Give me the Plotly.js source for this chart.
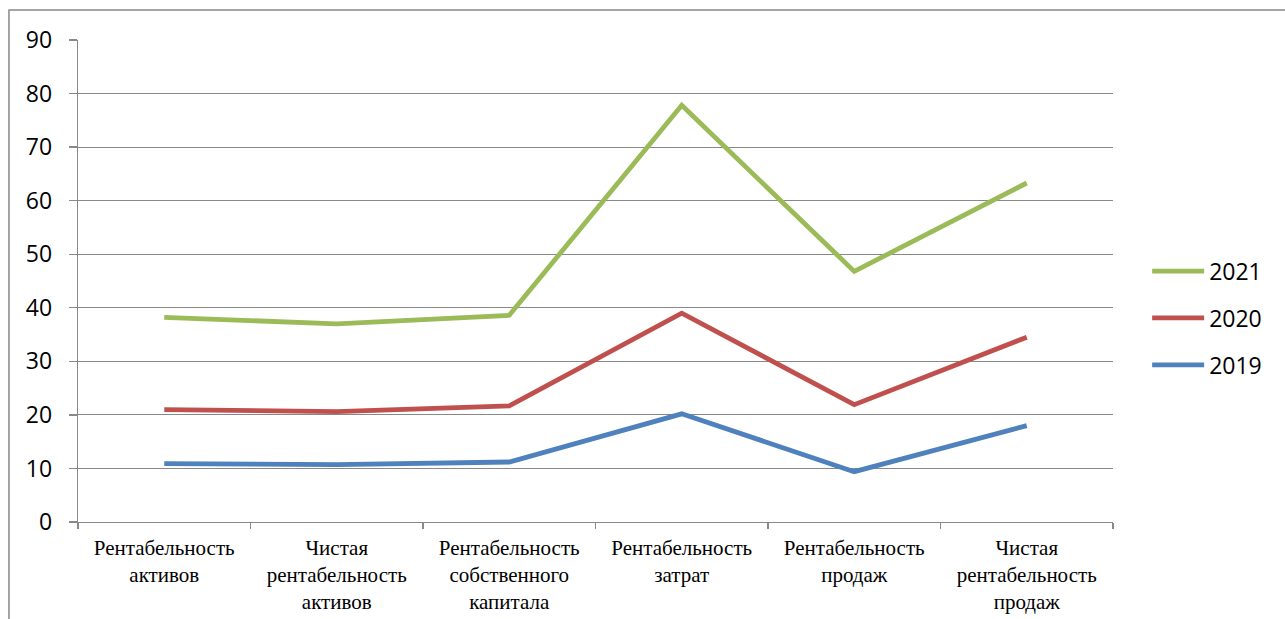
<!DOCTYPE html>
<html>
<head>
<meta charset="utf-8">
<script src="https://cdn.plot.ly/plotly-3.0.1.min.js"></script>
<style>
  html, body { margin: 0; padding: 0; background: #fff; }
  #chart { width: 1285px; height: 619px; }
</style>
</head>
<body>
<div id="chart"></div>
<script>
// Profitability indicators by year, %
const categories = [
  "Рентабельность<br>активов",
  "Чистая<br>рентабельность<br>активов",
  "Рентабельность<br>собственного<br>капитала",
  "Рентабельность<br>затрат",
  "Рентабельность<br>продаж",
  "Чистая<br>рентабельность<br>продаж"
];
const values2019 = [10.9, 10.7, 11.2, 20.2, 9.4, 18.0];
const values2020 = [21.0, 20.6, 21.7, 39.0, 21.9, 34.5];
const values2021 = [38.2, 37.0, 38.6, 77.8, 46.8, 63.3];
const yTicks = [0, 10, 20, 30, 40, 50, 60, 70, 80, 90];

const gridGray = "#888888";

function series(name, y, color) {
  return {
    type: "scatter",
    mode: "lines",
    name: name,
    legendgroup: name,
    x: categories,
    y: y,
    line: { color: color, width: 4.8 },
    hoverinfo: "skip"
  };
}

// Newest year first so the legend lists 2021, 2020, 2019 from the top
const traces = [
  series("2021", values2021, "#9BBB59"),
  series("2020", values2020, "#C0504D"),
  series("2019", values2019, "#4F81BD")
];

const layout = {
  width: 1285,
  height: 619,
  margin: { l: 78, r: 172, t: 40, b: 97 },
  paper_bgcolor: "#ffffff",
  plot_bgcolor: "#ffffff",
  showlegend: true,
  legend: {
    x: 1.033, xanchor: "left",
    y: 0.423, yanchor: "middle",
    traceorder: "grouped",
    tracegroupgap: 14,
    itemwidth: 52,
    font: { family: "Open Sans, sans-serif", size: 23, color: "#000" },
    bgcolor: "rgba(0,0,0,0)"
  },
  xaxis: {
    type: "category",
    range: [-0.5, 5.5],
    showgrid: false,
    showline: true,
    linecolor: gridGray,
    linewidth: 1.3,
    ticks: "outside",
    tickson: "boundaries",
    ticklen: 6,
    tickcolor: gridGray,
    tickwidth: 1.3,
    tickfont: { family: "Liberation Serif, Times New Roman, serif", size: 21, color: "#000" },
    ticklabelstandoff: 6,
    fixedrange: true
  },
  yaxis: {
    range: [0, 90],
    tickvals: yTicks,
    ticktext: yTicks.map(String),
    showgrid: true,
    gridcolor: gridGray,
    gridwidth: 1.2,
    zeroline: false,
    showline: true,
    linecolor: gridGray,
    linewidth: 1.3,
    ticks: "outside",
    ticklen: 8,
    tickcolor: gridGray,
    tickwidth: 1.3,
    tickfont: { family: "Open Sans, sans-serif", size: 23, color: "#000" },
    ticklabelstandoff: 12,
    fixedrange: true
  },
  shapes: [{
    type: "rect",
    xref: "paper", yref: "paper",
    x0: -0.0667, x1: 1.3,
    y0: -0.4, y1: 1.0622,
    line: { color: gridGray, width: 1.5 },
    fillcolor: "rgba(0,0,0,0)",
    layer: "below"
  }]
};

Plotly.newPlot("chart", traces, layout, { displayModeBar: false, staticPlot: true });
</script>
</body>
</html>
